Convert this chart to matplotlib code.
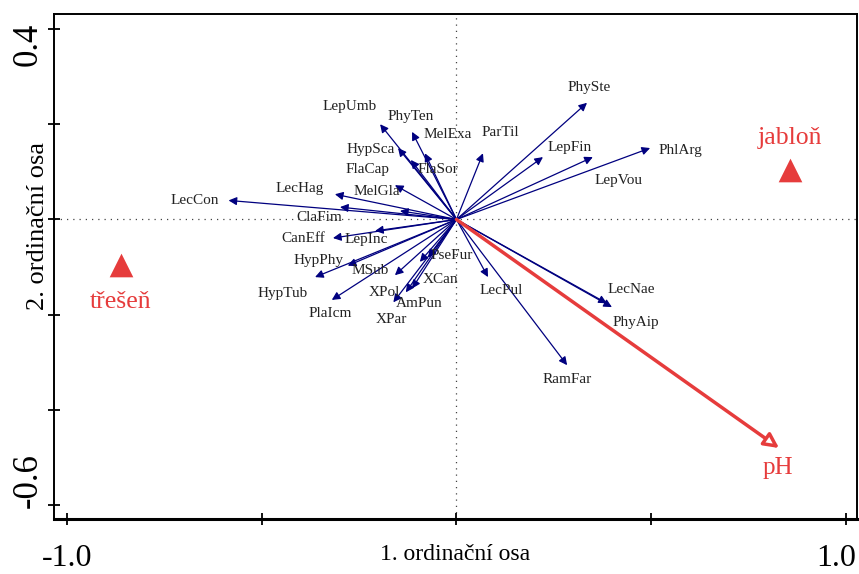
import matplotlib
matplotlib.use("Agg")
import matplotlib.pyplot as plt
from matplotlib.transforms import ScaledTranslation

# ---- data ----
species = ["PhySte", "ParTil", "LepFin", "PhlArg", "LepVou", "LecPul", "LecNae", "PhyAip", "RamFar",
           "LepUmb", "PhyTen", "MelExa", "HypSca", "FlaCap", "FlaSor", "LecHag", "MelGla", "LecCon",
           "ClaFim", "CanEff", "LepInc", "HypPhy", "MSub", "PseFur", "XCan", "HypTub", "XPol",
           "AmPun", "PlaIcm", "XPar"]
axis1 = [0.335, 0.068, 0.222, 0.497, 0.350, 0.081, 0.386, 0.399, 0.284,
         -0.196, -0.114, -0.081, -0.150, -0.158, -0.117, -0.312, -0.145, -0.585,
         -0.299, -0.317, -0.209, -0.279, -0.158, -0.073, -0.094, -0.363, -0.130,
         -0.114, -0.320, -0.162]
axis2 = [0.245, 0.139, 0.131, 0.150, 0.131, -0.121, -0.176, -0.184, -0.306,
         0.200, 0.184, 0.139, 0.150, 0.072, 0.125, 0.053, 0.018, 0.040,
         0.026, -0.039, -0.024, -0.097, -0.117, -0.080, -0.089, -0.121, -0.153,
         -0.145, -0.169, -0.174]
# label positions (data coords)
label_x = [0.340, 0.112, 0.291, 0.574, 0.415, 0.114, 0.448, 0.461, 0.284,
           -0.273, -0.117, -0.022, -0.220, -0.227, -0.047, -0.402, -0.204, -0.671,
           -0.353, -0.394, -0.232, -0.353, -0.222, -0.012, -0.042, -0.445, -0.186,
           -0.096, -0.325, -0.168]
label_y = [0.278, 0.183, 0.152, 0.144, 0.081, -0.150, -0.148, -0.216, -0.337,
           0.238, 0.217, 0.179, 0.148, 0.104, 0.104, 0.066, 0.058, 0.039,
           0.005, -0.039, -0.043, -0.087, -0.108, -0.075, -0.127, -0.155, -0.153,
           -0.176, -0.197, -0.211]

env_name = "pH"
env_xy = (0.828, -0.480)
env_label_xy = (0.825, -0.522)

sample_names = ["jabloň", "třešeň"]
sample_x = [0.856, -0.861]
sample_y = [0.104, -0.096]
sample_label_y = [0.171, -0.174]

xticks = [-1.0, -0.5, 0.0, 0.5, 1.0]
xticklabels = ["-1.0", "", "", "", "1.0"]
yticks = [0.4, 0.2, 0.0, -0.2, -0.4, -0.6]
yticklabels = ["0.4", "", "", "", "", "-0.6"]

# ---- figure ----
NAVY = "#00007f"
RED = "#e63c3c"
plt.rcParams["font.family"] = ["Liberation Serif", "DejaVu Serif"]

fig = plt.figure(figsize=(8.59, 5.74), dpi=100)
ax = fig.add_axes([54 / 859, 1 - 519 / 574, (857 - 54) / 859, (519 - 14) / 574])
ax.set_xlim(-1.033, 1.028)
ax.set_ylim(-0.629, 0.4315)

ax.axhline(0, color="#444444", lw=0.9, ls=(0, (1, 4)), zorder=1)
ax.axvline(0, color="#444444", lw=0.9, ls=(0, (1, 4)), zorder=1)

for name, x, y, lx, ly in zip(species, axis1, axis2, label_x, label_y):
    ax.annotate("", xy=(x, y), xytext=(0, 0),
                arrowprops=dict(arrowstyle="-|>", color=NAVY, lw=0.9,
                                mutation_scale=12, shrinkA=0, shrinkB=0), zorder=3)
    ax.text(lx, ly, name, ha="center", va="center", fontsize=11, color="#222222", zorder=4)

ax.annotate("", xy=env_xy, xytext=(0, 0),
            arrowprops=dict(arrowstyle="-|>", fc="white", ec=RED, lw=2.5,
                            mutation_scale=22, shrinkA=0, shrinkB=0), zorder=5)
ax.text(env_label_xy[0], env_label_xy[1], env_name, ha="center", va="center",
        fontsize=18, color=RED)

ax.scatter(sample_x, sample_y, marker="^", s=290, color=RED, zorder=5, linewidths=0)
for name, x, ly in zip(sample_names, sample_x, sample_label_y):
    ax.text(x, ly, name, ha="center", va="center", fontsize=18.5, color=RED)

for key, sp in ax.spines.items():
    sp.set_linewidth(2.2 if key == "bottom" else 1.4)

ax.set_xticks(xticks)
ax.set_xticklabels(xticklabels, fontsize=23)
ax.set_yticks(yticks)
ax.set_yticklabels(yticklabels, fontsize=25, rotation=90, va="center")
ax.tick_params(direction="inout", length=8, width=1.3)
ax.tick_params(axis="x", pad=14)
ax.tick_params(axis="y", pad=3)


def shift(label, dx_px, dy_px):
    label.set_transform(label.get_transform()
                        + ScaledTranslation(dx_px / 100, dy_px / 100, fig.dpi_scale_trans))


shift(ax.get_xticklabels()[-1], -10, 0)
shift(ax.get_yticklabels()[0], 0, -15)
shift(ax.get_yticklabels()[-1], 0, 25)

ax.set_xlabel("1. ordinační osa", fontsize=17)
ax.xaxis.set_label_coords(0.5, -0.05)
ax.set_ylabel("2. ordinační osa", fontsize=19)
ax.yaxis.set_label_coords(-0.006, 0.58)

fig.savefig("out.png", dpi=100)
